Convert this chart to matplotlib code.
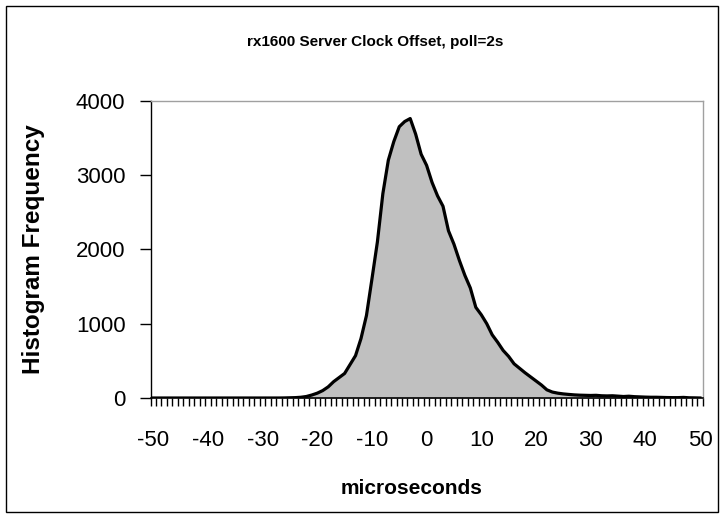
"""
rx1600 server clock offset histogram (poll=2s)
"""
import numpy as np
import matplotlib
matplotlib.use("Agg")
import matplotlib.pyplot as plt
from matplotlib.patches import Rectangle

plt.rcParams["font.family"] = ["Liberation Sans", "DejaVu Sans"]

# ── data: 1 us bins, -50 .. 50 ──
offset_us = list(range(-50, 51))
freq = ([0] * 24 +                                   # -50 .. -27
        [1, 3, 5, 10, 20, 40, 65, 100, 150, 220,     # -26 .. -17
         275, 330, 450, 570, 800, 1110, 1600, 2100,  # -16 .. -9
         2750, 3200, 3450, 3650, 3720, 3760, 3550,   # -8 .. -2
         3280, 3130, 2900, 2720, 2580, 2250, 2070,   # -1 .. 5
         1850, 1650, 1480, 1220, 1120, 1000, 850,    # 6 .. 12
         750, 640, 560, 460, 400, 340, 285, 230,     # 13 .. 20
         175, 110, 80, 65, 55, 48, 42, 38, 36, 34,   # 21 .. 30
         36, 30, 28, 30, 25, 20, 24, 18, 15, 12,     # 31 .. 40
         10, 10, 8, 6, 5, 5, 8, 3, 2, 0])            # 41 .. 50
x_labels = list(range(-50, 51, 10))
y_ticks = [0, 1000, 2000, 3000, 4000]

fig = plt.figure(figsize=(7.24, 5.17), dpi=100)
ax = fig.add_axes([150.5 / 724, 1 - 398 / 517, 552.2 / 724, 297.3 / 517])

ax.fill_between(offset_us, freq, 0, color="#C0C0C0", lw=0)
ax.plot(offset_us, freq, color="black", lw=2.3, solid_joinstyle="round")

ax.set_xlim(-50.5, 50.5)
ax.set_ylim(0, 4000)

# category style axis: tick marks between bins, labels every 10
ax.set_xticks(x_labels)
ax.set_xticklabels([str(v) for v in x_labels])
ax.set_xticks(np.arange(-50.5, 51, 1), minor=True)
ax.tick_params(axis="x", which="major", length=0, pad=23, labelsize=16)
ax.tick_params(axis="x", which="minor", length=6, width=1, direction="out", color="black")
ax.set_yticks(y_ticks)
ax.tick_params(axis="y", length=8, width=1, direction="out", pad=10, labelsize=16)

for s in ["top", "right"]:
    ax.spines[s].set_color("#A0A0A0")
    ax.spines[s].set_linewidth(1)
ax.spines["left"].set_linewidth(1)
ax.spines["bottom"].set_linewidth(1.2)

ax.set_ylabel("Histogram Frequency", fontsize=17.5, fontweight="bold")
ax.yaxis.set_label_coords(-0.191, 0.5)
fig.text(411.5 / 724, 1 - 488 / 517, "microseconds", fontsize=15, fontweight="bold",
         ha="center", va="center")
fig.text(375 / 724, 1 - 42 / 517, "rx1600 Server Clock Offset, poll=2s", fontsize=11,
         fontweight="bold", ha="center", va="center")

# outer chart border
fig.patches.append(Rectangle((6 / 724, 5 / 517), 712 / 724, 506 / 517, transform=fig.transFigure,
                             fill=False, edgecolor="black", lw=1))

fig.savefig("out.png", dpi=100)
